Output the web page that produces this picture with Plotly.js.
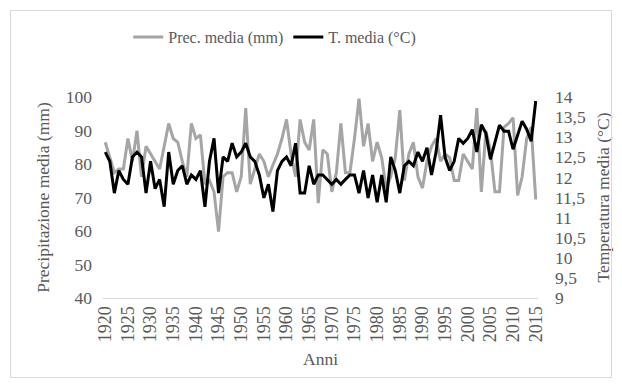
<!DOCTYPE html>
<html>
<head>
<meta charset="utf-8">
<script src="https://cdn.plot.ly/plotly-3.0.1.min.js"></script>
<style>
html,body{margin:0;padding:0;background:#fff;}
#wrap{position:relative;width:622px;height:388px;}
#chart{position:absolute;left:0;top:0;width:622px;height:388px;}
#frame{position:absolute;left:10px;top:10px;width:600px;height:366px;border:1px solid #d9d9d9;pointer-events:none;}
</style>
</head>
<body>
<div id="wrap"><div id="chart"></div><div id="frame"></div></div>
<script>
const years = [];
for (let y = 1920; y <= 2015; y++) years.push(y);

const precMedia = [
  86.5, 81.9, 77.4, 78.5, 78.5, 87.6, 80.8, 89.9, 76.2, 85.3,
  83.0, 80.8, 78.5, 85.3, 92.1, 87.6, 86.5, 80.8, 76.2, 92.1,
  87.6, 88.7, 74.0, 75.1, 71.7, 59.8, 76.2, 77.4, 77.4, 71.7,
  76.2, 96.7, 74.0, 78.5, 83.0, 80.8, 76.2, 79.7, 83.0, 87.6,
  93.3, 83.0, 76.2, 93.3, 86.5, 84.2, 93.3, 68.3, 84.2, 83.0,
  71.7, 77.4, 92.1, 77.4, 77.4, 87.6, 99.5, 85.3, 92.1, 80.8,
  86.5, 81.9, 72.8, 76.2, 81.9, 96.1, 75.1, 83.0, 86.5, 76.2,
  72.8, 80.8, 85.3, 87.6, 80.8, 83.0, 81.9, 75.1, 75.1, 83.0,
  80.8, 78.5, 96.7, 71.7, 89.9, 84.2, 71.7, 71.7, 91.0, 92.1,
  93.8, 70.6, 76.2, 87.6, 91.0, 69.4
];

const tempMedia = [
  12.63, 12.40, 11.61, 12.17, 11.95, 11.83, 12.51, 12.63, 12.51, 11.61,
  12.40, 11.72, 11.95, 11.27, 12.63, 11.83, 12.17, 12.29, 11.83, 12.06,
  11.95, 12.17, 11.27, 12.40, 12.97, 11.61, 12.51, 12.40, 12.85, 12.51,
  12.63, 12.85, 12.51, 12.40, 12.06, 11.49, 11.83, 11.15, 12.17, 12.40,
  12.51, 12.29, 12.85, 11.61, 11.61, 12.29, 11.83, 12.06, 12.06, 11.95,
  11.83, 11.95, 11.83, 11.95, 12.06, 12.06, 11.61, 12.17, 11.49, 12.06,
  11.38, 12.06, 11.38, 12.51, 12.17, 11.61, 12.29, 12.40, 12.29, 12.63,
  12.40, 12.74, 12.06, 12.63, 13.55, 12.50, 12.17, 12.40, 12.97, 12.85,
  12.97, 13.19, 12.63, 13.31, 13.10, 12.45, 12.90, 13.30, 13.15, 13.15,
  12.70, 13.05, 13.40, 13.20, 12.90, 13.90
];

const xTickVals = [1920,1925,1930,1935,1940,1945,1950,1955,1960,1965,1970,1975,1980,1985,1990,1995,2000,2005,2010,2015];

const FONT = 'Liberation Serif, Times New Roman, serif';
const TXT = '#595959';

const traces = [
  {
    x: years, y: precMedia, name: 'Prec. media (mm)', type: 'scatter', mode: 'lines',
    line: {color: '#a5a5a5', width: 3}, yaxis: 'y'
  },
  {
    x: years, y: tempMedia, name: 'T. media (°C)', type: 'scatter', mode: 'lines',
    line: {color: '#000000', width: 3}, yaxis: 'y2'
  }
];

const layout = {
  width: 622, height: 388,
  margin: {l: 103, r: 84, t: 97, b: 90, pad: 0},
  paper_bgcolor: '#ffffff', plot_bgcolor: '#ffffff',
  separators: ',.',
  font: {family: FONT, size: 16, color: TXT},
  showlegend: true,
  legend: {
    orientation: 'h', x: 0.058, xanchor: 'left', y: 1.298, yanchor: 'middle',
    font: {family: FONT, size: 16, color: TXT}, itemwidth: 30, tracegroupgap: 0
  },
  xaxis: {
    range: [1919.5, 2015.5], tickmode: 'array', tickvals: xTickVals,
    ticktext: xTickVals.map(String), tickangle: -90,
    showgrid: false, zeroline: false, showline: true, linecolor: '#d9d9d9', linewidth: 1,
    ticks: '', tickfont: {family: FONT, size: 18, color: TXT},
    title: {text: 'Anni', font: {family: FONT, size: 17.5, color: TXT}, standoff: 11}
  },
  yaxis: {
    range: [40, 100], dtick: 10, tick0: 40, showgrid: false, zeroline: false,
    showline: false, ticks: '', ticklabelstandoff: 10,
    tickfont: {family: FONT, size: 17.5, color: TXT},
    title: {text: 'Precipitazione media (mm)', font: {family: FONT, size: 17.5, color: TXT}, standoff: 11}
  },
  yaxis2: {
    range: [9, 14], dtick: 0.5, tick0: 9, overlaying: 'y', side: 'right',
    showgrid: false, zeroline: false, showline: false, ticks: '', ticklabelstandoff: 16,
    tickfont: {family: FONT, size: 17.5, color: TXT},
    title: {text: 'Temperatura media (°C)', font: {family: FONT, size: 17.5, color: TXT}, standoff: 11}
  }
};

Plotly.newPlot('chart', traces, layout, {displayModeBar: false, staticPlot: true});
</script>
</body>
</html>
